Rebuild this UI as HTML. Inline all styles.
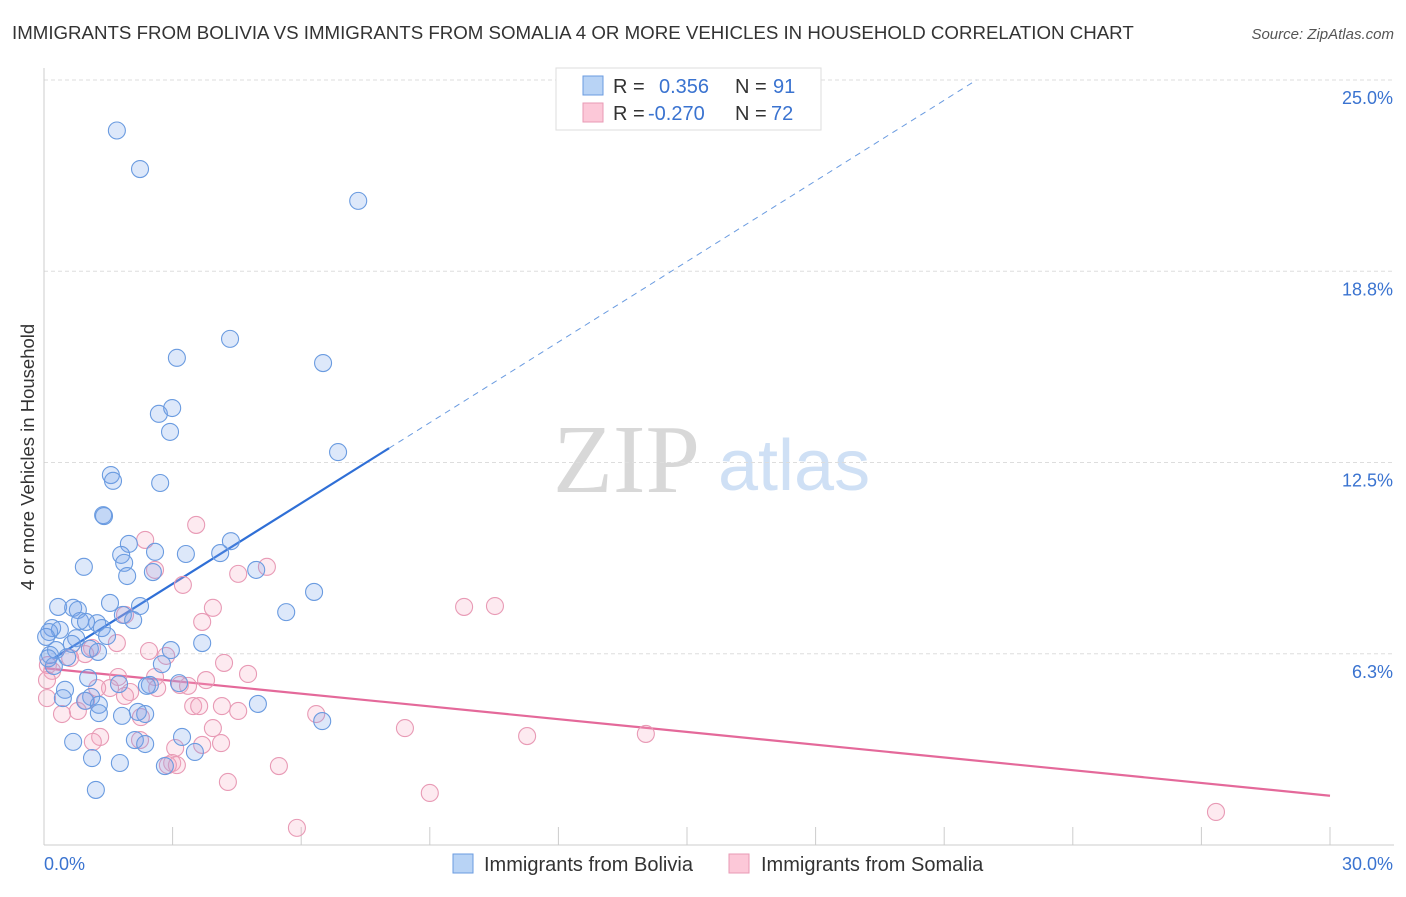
<!DOCTYPE html>
<html><head><meta charset="utf-8"><style>
body{margin:0;background:#fff;font-family:"Liberation Sans",sans-serif;}
</style></head><body>
<svg id="chart" width="1406" height="892" xmlns="http://www.w3.org/2000/svg" font-family="Liberation Sans, sans-serif">
<text x="12" y="39" font-size="18.7" fill="#333">IMMIGRANTS FROM BOLIVIA VS IMMIGRANTS FROM SOMALIA 4 OR MORE VEHICLES IN HOUSEHOLD CORRELATION CHART</text>
<text x="1394" y="39" font-size="15" fill="#555" font-style="italic" text-anchor="end">Source: ZipAtlas.com</text>
<text transform="translate(34,457) rotate(-90)" font-size="18.5" fill="#333" text-anchor="middle">4 or more Vehicles in Household</text>
<g>
<text x="553" y="492" font-size="98" fill="#d8d8d8" style="font-family:'Liberation Serif',serif">ZIP</text>
<text x="718" y="490" font-size="72" fill="#cfe0f5">atlas</text>
</g>
<g id="grid"></g><g id="axes"></g><g id="trends"></g><g id="points"></g>
<g>
<rect x="556" y="68" width="265" height="62" fill="#fff" stroke="#ddd"/>
<rect x="583" y="76" width="20" height="19" fill="#b8d3f5" stroke="#6a9be0"/>
<rect x="583" y="103" width="20" height="19" fill="#fcc8d8" stroke="#e89ab5"/>
<text x="613" y="93" font-size="20" fill="#333">R = </text><text x="659" y="93" font-size="20" fill="#3a73d0">0.356</text>
<text x="735" y="93" font-size="20" fill="#333">N = </text><text x="773" y="93" font-size="20" fill="#3a73d0">91</text>
<text x="613" y="120" font-size="20" fill="#333">R = </text><text x="648" y="120" font-size="20" fill="#3a73d0">-0.270</text>
<text x="735" y="120" font-size="20" fill="#333">N = </text><text x="771" y="120" font-size="20" fill="#3a73d0">72</text>
</g>
<g>
<rect x="453" y="854" width="20" height="19" fill="#b8d3f5" stroke="#6a9be0"/>
<text x="484" y="871" font-size="20" fill="#333">Immigrants from Bolivia</text>
<rect x="729" y="854" width="20" height="19" fill="#fcc8d8" stroke="#e89ab5"/>
<text x="761" y="871" font-size="20" fill="#333">Immigrants from Somalia</text>
</g>
</svg>
<script>
const yTicks=[6.25,12.5,18.75,25];
const yTickLabels=["6.3%","12.5%","18.8%","25.0%"];
const xTicks=[0,3,6,9,12,15,18,21,24,27,30];
const blueX=[1.70,2.24,7.33,4.34,3.10,6.51,2.68,2.99,2.94,6.86,1.56,1.61,2.71,1.38,1.40,4.36,1.98,2.59,3.31,4.11,1.80,1.87,0.93,2.54,1.94,4.95,6.30,1.54,2.24,0.33,0.68,0.79,5.65,1.84,2.08,0.84,1.24,0.98,1.35,0.19,0.37,0.12,1.47,0.75,3.69,0.65,1.07,1.26,2.96,0.28,0.14,0.54,2.75,0.23,1.03,2.47,2.40,3.15,1.75,0.49,1.10,0.96,0.44,4.99,1.28,1.28,1.82,2.36,2.19,6.49,3.22,0.68,2.12,2.36,3.52,1.12,1.77,2.82,1.21,0.05,0.1];
const blueY=[23.35,22.09,21.05,16.54,15.92,15.75,14.09,14.28,13.50,12.84,12.09,11.90,11.83,10.78,10.75,9.93,9.84,9.58,9.51,9.54,9.48,9.22,9.09,8.92,8.79,8.99,8.27,7.91,7.81,7.78,7.75,7.68,7.61,7.52,7.35,7.32,7.25,7.29,7.09,7.09,7.03,6.96,6.83,6.76,6.60,6.57,6.41,6.31,6.37,6.37,6.21,6.14,5.91,5.85,5.46,5.23,5.20,5.29,5.26,5.07,4.84,4.71,4.80,4.61,4.58,4.31,4.22,4.28,4.35,4.05,3.53,3.37,3.43,3.30,3.04,2.84,2.68,2.58,1.80,6.8,6.1];
const pinkX=[3.55,2.36,5.20,4.53,2.59,3.24,3.94,9.80,10.52,1.89,3.69,1.70,1.12,0.96,2.45,0.61,2.85,4.20,0.09,0.19,0.07,4.76,2.59,1.73,3.78,3.17,3.36,2.64,1.54,2.01,1.89,1.24,0.07,0.98,3.48,3.62,4.15,4.53,0.79,0.42,2.26,6.35,3.94,8.42,11.27,14.04,1.31,1.14,2.24,4.13,3.69,3.06,2.99,3.10,2.89,5.48,4.29,9.00,5.90,27.34];
const pinkY=[10.46,9.97,9.09,8.86,8.99,8.50,7.75,7.78,7.81,7.52,7.29,6.60,6.44,6.24,6.34,6.11,6.18,5.95,5.88,5.69,5.39,5.59,5.49,5.49,5.39,5.23,5.20,5.13,5.13,5.00,4.87,5.13,4.80,4.71,4.54,4.54,4.54,4.38,4.38,4.28,4.18,4.28,3.82,3.82,3.56,3.63,3.53,3.37,3.43,3.33,3.27,3.17,2.68,2.61,2.61,2.58,2.06,1.70,0.56,1.08];
const blueTrend=[5.9,0.878];
const pinkTrend=[5.78,-0.139];
const NS="http://www.w3.org/2000/svg";
const X0=44,X1=1330,YB=845,YT=80;
function xs(v){return X0+v/30*(X1-X0);}
function ys(v){return YB-v/25*(YB-YT);}
function mk(tag,attrs,parent){const e=document.createElementNS(NS,tag);for(const k in attrs)e.setAttribute(k,attrs[k]);parent.appendChild(e);return e;}
const grid=document.getElementById('grid'),axes=document.getElementById('axes'),trends=document.getElementById('trends'),pts=document.getElementById('points');
yTicks.forEach((t,i)=>{
 const l=mk('line',{x1:X0,x2:1394,y1:ys(t),y2:ys(t),stroke:'#ddd','stroke-dasharray':'4,3'},grid);
 
 
 const tx=mk('text',{x:1393,y:ys(t)+24,'font-size':18,fill:'#3a73d0','text-anchor':'end'},axes);
 tx.textContent=yTickLabels[i];
 
 
});
const ax=mk('line',{x1:X0,x2:1394,y1:YB,y2:YB,stroke:'#ccc'},axes);


const ay=mk('line',{x1:X0,x2:X0,y1:68,y2:YB,stroke:'#ccc'},axes);


xTicks.forEach(t=>{
 const l=mk('line',{x1:xs(t),x2:xs(t),y1:YB,y2:YB-18,stroke:'#ccc'},axes);
 
 
});
const xl0=mk('text',{x:44,y:870,'font-size':18,fill:'#3a73d0'},axes);xl0.textContent='0.0%';


const xl1=mk('text',{x:1393,y:870,'font-size':18,fill:'#3a73d0','text-anchor':'end'},axes);xl1.textContent='30.0%';


function drawPts(xa,ya,fill,stroke,name){
 xa.forEach((v,i)=>{
  const c=mk('circle',{cx:xs(v),cy:ys(ya[i]),r:8.5,fill:fill,stroke:stroke,'stroke-width':1.1},pts);
  
  
 });
}
drawPts(pinkX,pinkY,'rgba(248,170,195,0.25)','#e89ab5','point-somalia');
drawPts(blueX,blueY,'rgba(120,165,235,0.25)','#6a9be0','point-bolivia');
const bEnd=8.05,bDash=(25-blueTrend[0])/blueTrend[1];
const b1=mk('line',{x1:xs(0.2),y1:ys(blueTrend[0]+blueTrend[1]*0.2),x2:xs(bEnd),y2:ys(blueTrend[0]+blueTrend[1]*bEnd),stroke:'#2f6fd6','stroke-width':2.2},trends);


const b2=mk('line',{x1:xs(bEnd),y1:ys(blueTrend[0]+blueTrend[1]*bEnd),x2:xs(bDash),y2:ys(25),stroke:'#6a9be0','stroke-width':1,'stroke-dasharray':'6,5'},trends);


const p1=mk('line',{x1:xs(0),y1:ys(pinkTrend[0]),x2:xs(30),y2:ys(pinkTrend[0]+pinkTrend[1]*30),stroke:'#e4699a','stroke-width':2.2},trends);


</script>
</body></html>
